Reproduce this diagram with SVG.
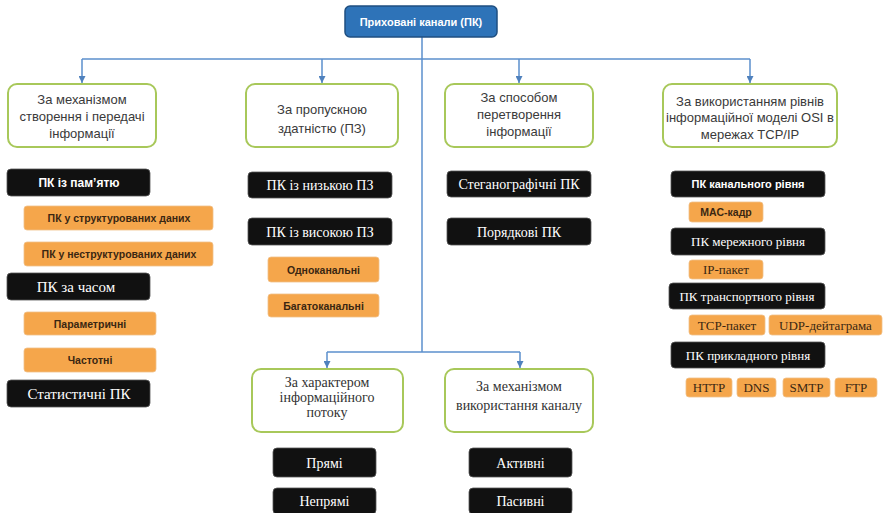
<svg xmlns="http://www.w3.org/2000/svg" width="883" height="513" viewBox="0 0 883 513">
<defs>
<marker id="arr" markerUnits="userSpaceOnUse" markerWidth="8" markerHeight="7" refX="7" refY="3.5" orient="auto">
<path d="M0,0 L7,3.5 L0,7 Z" fill="#4f81bd"/>
</marker>
<style>
.conn{fill:none;stroke:#5b8fcc;stroke-width:1.5}
.cat{fill:#fff;stroke:#a8c85a;stroke-width:2}
.blk{fill:#111;stroke:#555;stroke-width:0.8}
.org{fill:#f5a64b;stroke:#f0c089;stroke-width:0.8}
.ts{font-family:"Liberation Sans",Arial,sans-serif;text-anchor:middle}
.tr{font-family:"Liberation Serif","Times New Roman",serif;text-anchor:middle}
.wc{fill:#3a3a3a;font-size:13px}
.wr{fill:#333;font-size:14px}
.wb{fill:#fff}
.do{fill:#3a2612}
.ob{font-size:10.5px;font-weight:bold}
</style>
</defs>
<rect width="883" height="513" fill="#fff"/>
<g id="connectors">
<path class="conn" d="M422,37 V352"/>
<path class="conn" d="M82,59 H750"/>
<path class="conn" d="M82,59 V83" marker-end="url(#arr)"/>
<path class="conn" d="M322,59 V83" marker-end="url(#arr)"/>
<path class="conn" d="M519,59 V83" marker-end="url(#arr)"/>
<path class="conn" d="M750,59 V83" marker-end="url(#arr)"/>
<path class="conn" d="M327,352 H520"/>
<path class="conn" d="M327,352 V368" marker-end="url(#arr)"/>
<path class="conn" d="M520,352 V368" marker-end="url(#arr)"/>
</g>
<g id="root">
<rect x="345" y="6" width="152" height="31" rx="5" fill="#2e73b8" stroke="#1f4f80" stroke-width="1.5"/>
<text class="ts" x="421" y="25.5" font-size="11" font-weight="bold" fill="#fff">Приховані канали (ПК)</text>
</g>
<g id="cat1">
<rect class="cat" x="8" y="84" width="148" height="63" rx="9"/>
<text class="ts wc" x="82" y="104">За механізмом</text>
<text class="ts wc" x="82" y="121">створення і передачі</text>
<text class="ts wc" x="82" y="138">інформації</text>
</g>
<g id="cat2">
<rect class="cat" x="246" y="84" width="152" height="63" rx="9"/>
<text class="ts wc" x="322" y="114">За пропускною</text>
<text class="ts wc" x="322" y="133">здатністю (ПЗ)</text>
</g>
<g id="cat3">
<rect class="cat" x="445" y="84" width="148" height="63" rx="9"/>
<text class="ts wc" x="519" y="102">За способом</text>
<text class="ts wc" x="519" y="119">перетворення</text>
<text class="ts wc" x="519" y="136">інформації</text>
</g>
<g id="cat4">
<rect class="cat" x="663" y="84" width="174" height="63" rx="9"/>
<text class="ts wc" x="750" y="106">За використанням рівнів</text>
<text class="ts wc" x="750" y="122">інформаційної моделі OSI в</text>
<text class="ts wc" x="750" y="139">мережах TCP/IP</text>
</g>
<g id="cat5">
<rect class="cat" x="252" y="369" width="151" height="63" rx="9"/>
<text class="tr wr" x="327" y="387">За характером</text>
<text class="tr wr" x="327" y="402">інформаційного</text>
<text class="tr wr" x="327" y="417">потоку</text>
</g>
<g id="cat6">
<rect class="cat" x="445" y="369" width="148" height="63" rx="9"/>
<text class="tr wr" x="519" y="391">За механізмом</text>
<text class="tr wr" x="519" y="410">використання каналу</text>
</g>
<g id="n-memory">
<rect class="blk" x="7" y="169" width="143" height="27" rx="4"/>
<text class="ts wb" x="79" y="187" font-size="12" font-weight="bold">ПК із пам’ятю</text>
</g>
<g id="n-struct">
<rect class="org" x="24" y="206" width="189" height="24" rx="3"/>
<text class="ts do ob" x="119" y="222">ПК у структурованих даних</text>
</g>
<g id="n-unstruct">
<rect class="org" x="24" y="242" width="189" height="24" rx="3"/>
<text class="ts do ob" x="119" y="258">ПК у неструктурованих даних</text>
</g>
<g id="n-time">
<rect class="blk" x="7" y="273" width="143" height="27" rx="4"/>
<text class="tr wb" x="76" y="292" font-size="15">ПК за часом</text>
</g>
<g id="n-param">
<rect class="org" x="24" y="312" width="132" height="23" rx="3"/>
<text class="ts do ob" x="90" y="327.5">Параметричні</text>
</g>
<g id="n-freq">
<rect class="org" x="24" y="348" width="132" height="24" rx="3"/>
<text class="ts do ob" x="90" y="364">Частотні</text>
</g>
<g id="n-stat">
<rect class="blk" x="7" y="380" width="143" height="27" rx="4"/>
<text class="tr wb" x="79" y="399" font-size="15">Статистичні ПК</text>
</g>
<g id="n-low">
<rect class="blk" x="248" y="172" width="144" height="26" rx="4"/>
<text class="tr wb" x="320" y="190" font-size="14">ПК із низькою ПЗ</text>
</g>
<g id="n-high">
<rect class="blk" x="248" y="218" width="144" height="27" rx="4"/>
<text class="tr wb" x="320" y="236.5" font-size="14">ПК із високою ПЗ</text>
</g>
<g id="n-single">
<rect class="org" x="268" y="257" width="111" height="25" rx="3"/>
<text class="ts do ob" x="323.5" y="273.5">Одноканальні</text>
</g>
<g id="n-multi">
<rect class="org" x="268" y="294" width="111" height="23" rx="3"/>
<text class="ts do ob" x="323.5" y="309.5">Багатоканальні</text>
</g>
<g id="n-steg">
<rect class="blk" x="447" y="171" width="144" height="26" rx="4"/>
<text class="tr wb" x="519" y="189" font-size="14">Стеганографічні ПК</text>
</g>
<g id="n-order">
<rect class="blk" x="447" y="218" width="144" height="27" rx="4"/>
<text class="tr wb" x="519" y="236.5" font-size="14">Порядкові ПК</text>
</g>
<g id="n-link">
<rect class="blk" x="671" y="171" width="154" height="26" rx="4"/>
<text class="ts wb" x="748" y="188" font-size="11" font-weight="bold">ПК канального рівня</text>
</g>
<g id="n-mac">
<rect class="org" x="689" y="202" width="74" height="20" rx="3"/>
<text class="ts do ob" x="726" y="216">MAC-кадр</text>
</g>
<g id="n-net">
<rect class="blk" x="671" y="228" width="154" height="27" rx="4"/>
<text class="tr wb" x="748" y="246" font-size="13">ПК мережного рівня</text>
</g>
<g id="n-ip">
<rect class="org" x="689" y="260" width="74" height="19" rx="3"/>
<text class="tr do" x="726" y="274" font-size="13">IP-пакет</text>
</g>
<g id="n-trans">
<rect class="blk" x="669" y="283" width="156" height="26" rx="4"/>
<text class="tr wb" x="747" y="300.5" font-size="13">ПК транспортного рівня</text>
</g>
<g id="n-tcp">
<rect class="org" x="689" y="315" width="76" height="20" rx="3"/>
<text class="tr do" x="727" y="329.5" font-size="13">TCP-пакет</text>
</g>
<g id="n-udp">
<rect class="org" x="769" y="315" width="113" height="20" rx="3"/>
<text class="tr do" x="825.5" y="329.5" font-size="13">UDP-дейтаграма</text>
</g>
<g id="n-app">
<rect class="blk" x="671" y="342" width="154" height="26" rx="4"/>
<text class="tr wb" x="748" y="359.5" font-size="13">ПК прикладного рівня</text>
</g>
<g id="n-http">
<rect class="org" x="686" y="378" width="46" height="19" rx="3"/>
<text class="tr do" x="709" y="392" font-size="13">HTTP</text>
</g>
<g id="n-dns">
<rect class="org" x="737" y="378" width="39" height="19" rx="3"/>
<text class="tr do" x="756.5" y="392" font-size="13">DNS</text>
</g>
<g id="n-smtp">
<rect class="org" x="783" y="378" width="47" height="19" rx="3"/>
<text class="tr do" x="806.5" y="392" font-size="13">SMTP</text>
</g>
<g id="n-ftp">
<rect class="org" x="835" y="378" width="42" height="19" rx="3"/>
<text class="tr do" x="856" y="392" font-size="13">FTP</text>
</g>
<g id="n-direct">
<rect class="blk" x="273" y="448" width="103" height="29" rx="4"/>
<text class="tr wb" x="324.5" y="467.5" font-size="14">Прямі</text>
</g>
<g id="n-indirect">
<rect class="blk" x="273" y="488" width="103" height="26" rx="4"/>
<text class="tr wb" x="324.5" y="505.5" font-size="14">Непрямі</text>
</g>
<g id="n-active">
<rect class="blk" x="469" y="448" width="103" height="29" rx="4"/>
<text class="tr wb" x="520.5" y="467.5" font-size="14">Активні</text>
</g>
<g id="n-passive">
<rect class="blk" x="469" y="488" width="103" height="26" rx="4"/>
<text class="tr wb" x="520.5" y="505.5" font-size="14">Пасивні</text>
</g>
</svg>
